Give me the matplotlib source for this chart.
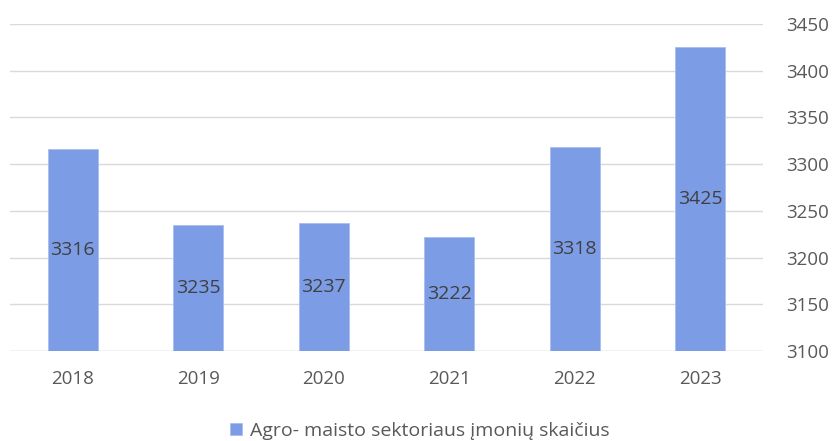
import matplotlib
matplotlib.use("Agg")
import matplotlib.pyplot as plt
import numpy as np

years = ["2018", "2019", "2020", "2021", "2022", "2023"]
counts = [3316, 3235, 3237, 3222, 3318, 3425]
yticks = [3100, 3150, 3200, 3250, 3300, 3350, 3400, 3450]
legend_label = "Agro- maisto sektoriaus įmonių skaičius"

bar_color = "#7C9CE5"
text_color = "#595959"

plt.rcParams["font.family"] = ["Open Sans", "DejaVu Sans"]

fig = plt.figure(figsize=(8.34, 4.41), dpi=100)
ax = fig.add_axes([10/834, 1-351/441, 753/834, (351-24)/441])

x = np.arange(len(years))
ymin = yticks[0]
bars = ax.bar(x, np.array(counts) - ymin, bottom=ymin, width=0.4,
              color=bar_color, edgecolor="#A9BEF0", linewidth=0.6, zorder=3,
              label=legend_label)
for xi, v in zip(x, counts):
    ax.text(xi, (v + ymin) / 2, str(v), ha="center", va="center",
            fontsize=14, color="#404040", zorder=4)

ax.set_xlim(-0.5, len(years) - 0.5)
ax.set_ylim(yticks[0], yticks[-1])
ax.set_yticks(yticks)
ax.set_xticks(x)
ax.set_xticklabels(years)
ax.yaxis.tick_right()
ax.grid(axis="y", color="#D9D9D9", linewidth=1.0, zorder=0)
ax.tick_params(axis="both", length=0, labelsize=13.5, labelcolor=text_color)
ax.tick_params(axis="y", pad=17)
ax.tick_params(axis="x", pad=14)
for s in ax.spines.values():
    s.set_visible(False)
ax.axhline(yticks[0], color="#D9D9D9", linewidth=1.0, zorder=2)

fig.legend(handles=[bars], labels=[legend_label], loc="center",
           bbox_to_anchor=(420/834, 1-431/441), frameon=False, fontsize=14,
           labelcolor=text_color, handlelength=0.6, handleheight=0.6,
           handletextpad=0.4)

fig.savefig("out.png", dpi=100)
